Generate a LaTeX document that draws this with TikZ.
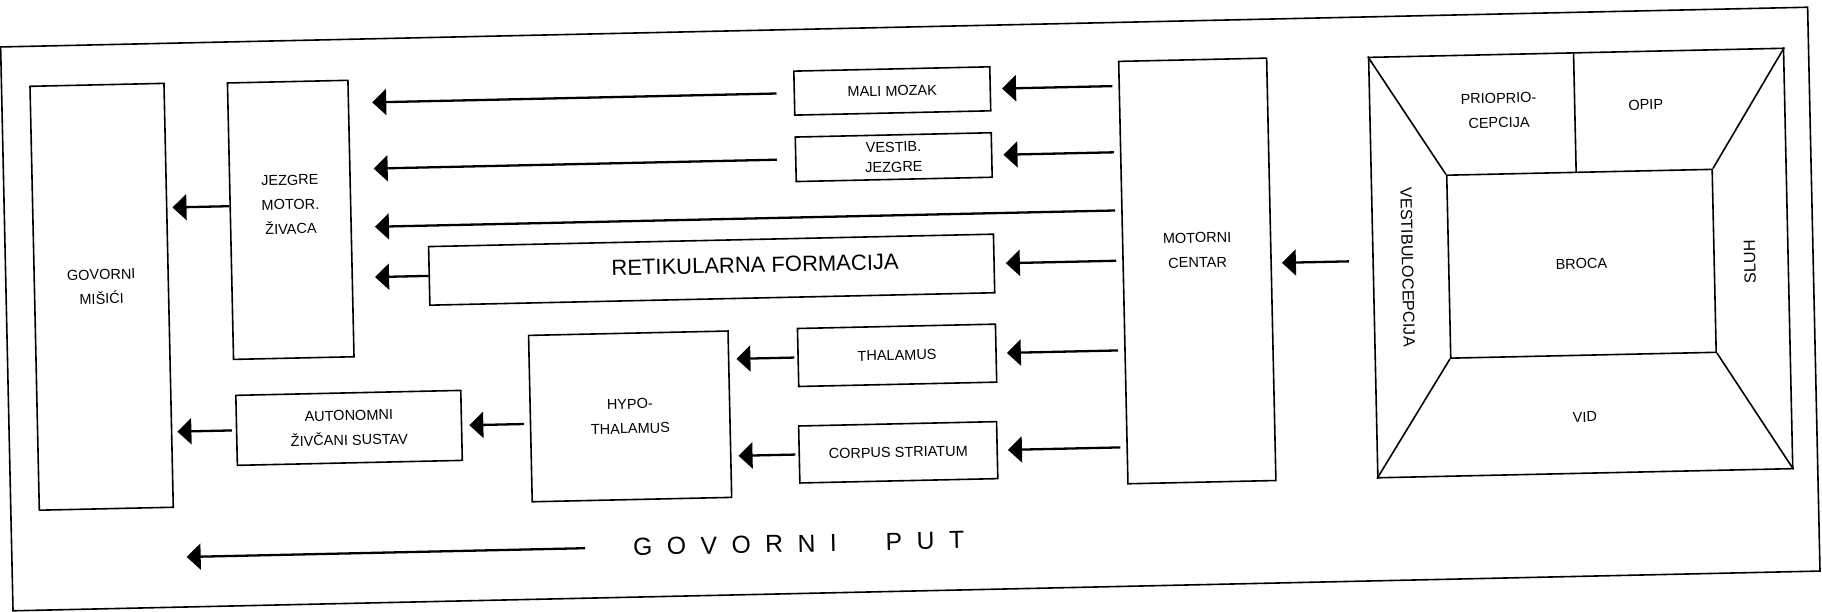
\documentclass[tikz,border=0pt]{standalone}
\usepackage{fontspec}
\setmainfont{Liberation Sans}
\usetikzlibrary{arrows.meta,calc}
\newcommand\smtxt{\fontsize{14.5}{24.5}\selectfont}
\newcommand\gpsp{\hspace{14.5pt}}
\begin{document}
\begin{tikzpicture}[x=1pt,y=-1pt,
  box/.style={draw, line width=1.6pt, inner sep=0pt, align=center, font=\smtxt},
  txt/.style={inner sep=0pt, align=center, font=\smtxt},
  arr/.style={line width=2.3pt, -{Triangle[length=14pt,width=26pt]}},
  thinline/.style={line width=1.6pt}]
\fill[white] (0,0) rectangle (1822,612);
\useasboundingbox (0,0) rectangle (1822,612);
\begin{scope}[rotate around={1.26:(911,306)}, transform shape]
  % outer frame
  \draw[thinline] (6.5,27) rectangle (1814,591);
  % boxes
  \node[box, minimum width=134pt, minimum height=424pt] (gov) at (102,279) {};
  \node[txt] (govt) at (102,269) {GOVORNI\\MIŠIĆI};
  \node[box, minimum width=120.5pt, minimum height=276.5pt] (jez) at (292.75,206.25) {};
  \node[txt] (jezt) at (292.8,191) {JEZGRE\\MOTOR.\\ŽIVACA};
  \node[box, minimum width=196pt, minimum height=44pt] (mali) at (897,90.6) {MALI MOZAK};
  \node[box, minimum width=196pt, minimum height=44.5pt, font=\fontsize{14.5}{20}\selectfont] (vest) at (897,156.8) {VESTIB.\\JEZGRE};
  \node[box, minimum width=565pt, minimum height=58.6pt] (ret) at (712.5,265.3) {};
  \node[txt, font=\fontsize{22}{26}\selectfont] (rett) at (756,261.5) {RETIKULARNA FORMACIJA};
  \node[box, minimum width=198pt, minimum height=58pt] (thal) at (896,355) {THALAMUS};
  \node[box, minimum width=198pt, minimum height=57pt] (corp) at (895,452) {CORPUS STRIATUM};
  \node[box, minimum width=199.5pt, minimum height=166.4pt] (hyp) at (627.75,410.2) {HYPO-\\THALAMUS};
  \node[box, minimum width=225pt, minimum height=70pt] (aut) at (346.5,415.5) {AUTONOMNI\\ŽIVČANI SUSTAV};
  \node[box, minimum width=148pt, minimum height=422.5pt] (mot) at (1198,277.25) {};
  \node[txt] (mott) at (1198.5,256.5) {MOTORNI\\CENTAR};
  % cube
  \node[box, minimum width=415pt, minimum height=420.5pt] (cube) at (1581.5,277.75) {};
  \node[box, minimum width=265.5pt, minimum height=183pt] (broca) at (1582.25,278.5) {BROCA};
  \draw[thinline] (cube.north west) -- (broca.north west);
  \draw[thinline] (cube.north east) -- (broca.north east);
  \draw[thinline] (cube.south west) -- (broca.south west);
  \draw[thinline] (cube.south east) -- (broca.south east);
  \coordinate (divT) at (1579,67.5);
  \coordinate (divB) at (1579,187);
  \draw[thinline] (divT) -- (divB);
  \node[txt] (prio) at (1503,123.4) {PRIOPRIO-\\CEPCIJA};
  \node[txt] (opip) at (1650,121) {OPIP};
  \node[txt, font=\fontsize{16.2}{20}\selectfont, rotate=-90] (vestc) at (1408.4,278) {VESTIBULOCEPCIJA};
  \node[txt, font=\fontsize{16.2}{20}\selectfont, rotate=90] (sluh) at (1750.6,280.4) {SLUH};
  \node[txt] (vid) at (1582.3,431.8) {VID};
  % title
  \node[txt, font=\fontsize{24.7}{30}\selectfont] (put) at (793.5,541)
    {G\gpsp O\gpsp V\gpsp O\gpsp R\gpsp N\gpsp I\hspace{49pt}P\gpsp U\gpsp T};
  % arrows from motor centre
  \draw[arr] ($(mot.west |- mali.east)+(-6,0)$) -- ($(mali.east)+(11,0)$);
  \draw[arr] ($(mot.west |- vest.east)+(-6,0)$) -- ($(vest.east)+(11,0)$);
  \draw[arr] ($(mot.west |- ret.east)+(-6,0)$) -- ($(ret.east)+(11,0)$);
  \draw[arr] ($(mot.west |- thal.east)+(-6,0)$) -- ($(thal.east)+(10,0)$);
  \draw[arr] ($(mot.west |- corp.east)+(-6,0)$) -- ($(corp.east)+(10,0)$);
  \draw[arr] ($(mot.west)+(-6,-62.25)$) -- ($(jez.east)+(23,8.75)$);
  % arrows to jezgre
  \draw[arr] ($(mali.west)+(-17,0)$) -- ($(jez.east |- mali.west)+(23,0)$);
  \draw[arr] ($(vest.west)+(-18,0)$) -- ($(jez.east |- vest.west)+(23,0)$);
  \draw[arr] (ret.west) -- ($(jez.east |- ret.west)+(22,0)$);
  \draw[arr] ($(jez.west)+(0,-15)$) -- ($(gov.east |- jez.west)+(5,-15)$);
  % hypothalamus path
  \draw[arr] ($(thal.west)+(-3,0)$) -- ($(hyp.east |- thal.west)+(7,0)$);
  \draw[arr] ($(corp.west)+(-3,0)$) -- ($(hyp.east |- corp.west)+(7,0)$);
  \draw[arr] ($(hyp.west |- aut.east)+(-5.5,0)$) -- ($(aut.east)+(7,0)$);
  \draw[arr] ($(aut.west)+(-4,0)$) -- ($(gov.east |- aut.west)+(5,0)$);
  % cube to motor
  \draw[arr] ($(cube.west)+(-23.5,-6.75)$) -- ($(mot.east)+(10,-6.25)$);
  % speech path arrow
  \draw[arr] ($(put.west)+(-48,0)$) -- ($(gov.east |- put.west)+(11.5,0)$);
\end{scope}
\end{tikzpicture}
\end{document}
